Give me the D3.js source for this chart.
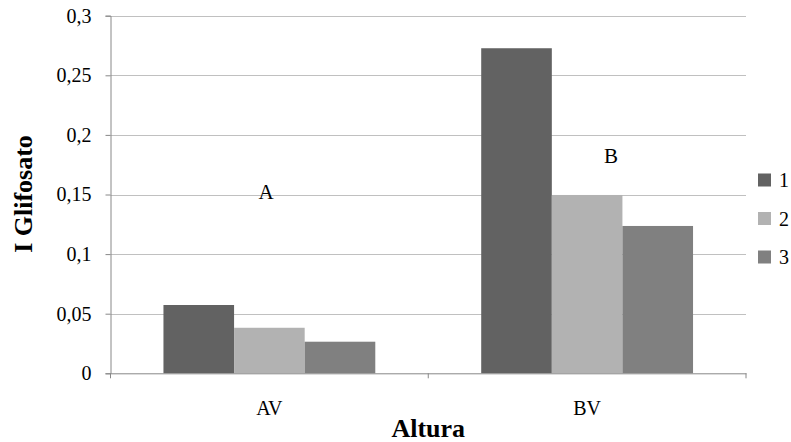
<!DOCTYPE html>
<html>
<head>
<meta charset="utf-8">
<script src="https://cdn.jsdelivr.net/npm/d3@7"></script>
<style>
  body { margin: 0; background: #fff; }
  svg text { font-family: "Liberation Serif", "Times New Roman", serif; fill: #000; }
</style>
</head>
<body>
<div id="chart"></div>
<script>
var categories = ['AV', 'BV'];
var seriesNames = ['1', '2', '3'];
var series1 = [0.0573, 0.2727];
var series2 = [0.0382, 0.1496];
var series3 = [0.0265, 0.1236];
var yTicks = [0, 0.05, 0.1, 0.15, 0.2, 0.25, 0.3];
var yTickLabels = ['0', '0,05', '0,1', '0,15', '0,2', '0,25', '0,3'];
var groupLabels = ['A', 'B'];
var groupLabelValues = [0.15, 0.175];

;(function(){
var colors = ['#626262', '#b2b2b2', '#808080'];
var values = [series1, series2, series3];

var W = 791, H = 442;
var plotLeft = 110.5, plotRight = 746, plotTop = 15.7, plotBottom = 373.3;

var svg = d3.select('#chart').append('svg')
  .attr('width', W)
  .attr('height', H);

var x = d3.scaleBand().domain(categories).range([plotLeft, plotRight]);
var xInner = d3.scaleBand().domain(seriesNames)
  .range([0, x.bandwidth()])
  .paddingInner(0)
  .paddingOuter(0.75);
var y = d3.scaleLinear().domain([0, 0.3]).range([plotBottom, plotTop]);

// gridlines
svg.append('g').selectAll('line')
  .data(yTicks.slice(1))
  .enter().append('line')
  .attr('x1', plotLeft).attr('x2', plotRight)
  .attr('y1', function(d){ return Math.round(y(d)) + 0.5; })
  .attr('y2', function(d){ return Math.round(y(d)) + 0.5; })
  .attr('stroke', '#c0c0c0')
  .attr('stroke-width', 1);

// bars
var groups = svg.append('g').selectAll('g')
  .data(categories)
  .enter().append('g')
  .attr('transform', function(d){ return 'translate(' + x(d) + ',0)'; });

groups.selectAll('rect')
  .data(function(d, i){
    return seriesNames.map(function(s, j){ return {s: s, v: values[j][i], j: j}; });
  })
  .enter().append('rect')
  .attr('x', function(d){ return xInner(d.s); })
  .attr('width', xInner.bandwidth())
  .attr('y', function(d){ return y(d.v); })
  .attr('height', function(d){ return plotBottom - y(d.v); })
  .attr('fill', function(d){ return colors[d.j]; });

// y axis
var yAxis = d3.axisLeft(y)
  .tickValues(yTicks)
  .tickSize(5)
  .tickPadding(14)
  .tickFormat(function(d, i){ return yTickLabels[i]; });

var gy = svg.append('g')
  .attr('transform', 'translate(' + plotLeft + ',0)')
  .call(yAxis)
  .attr('font-family', null)
  .attr('font-size', null);
gy.select('.domain').attr('stroke', '#888');
gy.selectAll('.tick line').attr('stroke', '#888');
gy.selectAll('.tick text')
  .style('font-size', '20px')
  .attr('fill', '#000');

// x axis
var xAxis = d3.axisBottom(x).tickSize(0).tickPadding(28);
var gx = svg.append('g')
  .attr('transform', 'translate(0,' + plotBottom + ')')
  .call(xAxis)
  .attr('font-family', null)
  .attr('font-size', null);
gx.select('.domain').attr('stroke', '#888');
gx.selectAll('.tick text')
  .style('font-size', '20px')
  .attr('fill', '#000');

// category boundary ticks
svg.append('g').selectAll('line')
  .data([categories[0], categories[1], null])
  .enter().append('line')
  .attr('x1', function(d){ return d ? x(d) : plotRight; })
  .attr('x2', function(d){ return d ? x(d) : plotRight; })
  .attr('y1', plotBottom)
  .attr('y2', plotBottom + 5)
  .attr('stroke', '#888');

// group letters
svg.append('g').selectAll('text')
  .data(groupLabels)
  .enter().append('text')
  .attr('x', function(d, i){ return x(categories[i]) + x.bandwidth() * [0.49, 0.5][i] + [0, 24][i]; })
  .attr('y', function(d, i){ return y(groupLabelValues[i]) + [4, -2][i]; })
  .attr('text-anchor', 'middle')
  .style('font-size', '21px')
  .text(function(d){ return d; });

// axis titles
svg.append('text')
  .attr('x', (plotLeft + plotRight) / 2)
  .attr('y', 437)
  .attr('text-anchor', 'middle')
  .style('font-size', '26px')
  .style('font-weight', 'bold')
  .text('Altura');

svg.append('text')
  .attr('transform', 'translate(32,' + 194 + ') rotate(-90)')
  .attr('text-anchor', 'middle')
  .style('font-size', '26px')
  .style('font-weight', 'bold')
  .text('I Glifosato');

// legend
var legend = svg.append('g').selectAll('g')
  .data(seriesNames)
  .enter().append('g')
  .attr('transform', function(d, i){ return 'translate(758,' + (180 + i * 38.5) + ')'; });

legend.append('rect')
  .attr('x', 0).attr('y', -6.5)
  .attr('width', 13).attr('height', 13)
  .attr('fill', function(d, i){ return colors[i]; });

legend.append('text')
  .attr('x', 21)
  .attr('y', 7)
  .style('font-size', '20px')
  .text(function(d){ return d; });
})();
</script>
</body>
</html>
